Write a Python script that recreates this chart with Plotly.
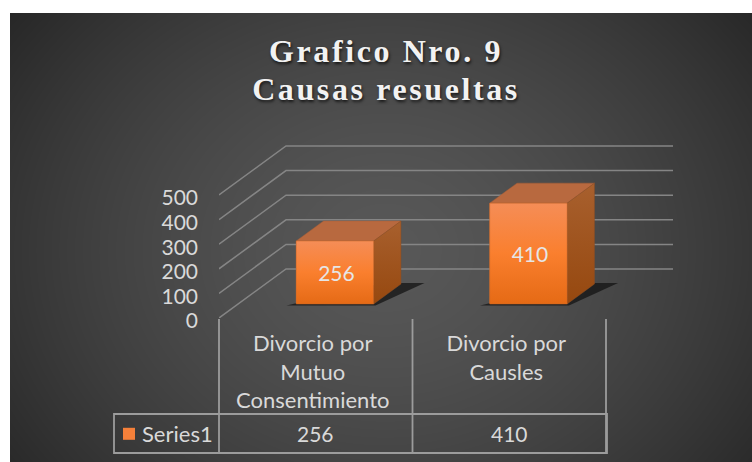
import base64, struct, zlib
import numpy as np
import plotly.graph_objects as go

# ---- data
categories = ["Divorcio por<br>Mutuo<br>Consentimiento", "Divorcio por<br>Causles"]
series_name = "Series1"
values = [256, 410]
y_ticks = [0, 100, 200, 300, 400, 500]

# ---- layout constants
W, H = 752, 462
L, R, B = 219, 606, 318              # category axis ends and baseline, pixels
Y500 = 195                           # pixel height of value 500 on the front plane
PLOT_R, PLOT_T = 680, 140            # plot box also holds the receding back wall
CARD = (10, 13, 752, 462)            # dark card
TABLE_TOP, TABLE_BOTTOM, TABLE_LEFT = 414, 453, 114
X_UNIT = (R - L) / 2.0
Y_UNIT = (B - Y500) / 500.0
DEPTH_X = 67 / X_UNIT                # oblique projection of the depth axis
DEPTH_Y = 49 / Y_UNIT
BAR_W = 0.40
D0, D1 = 0.286, 0.694                # bar front / back depth
FONT = "Lato, sans-serif"
TXT = "#d9d9d9"
GRID = "#858585"


def proj(x, v, d):
    return x + d * DEPTH_X, v + d * DEPTH_Y


def poly(points):
    xs, ys = zip(*points)
    return list(xs) + [xs[0]], list(ys) + [ys[0]]


def px(x):
    return (x - L) / (PLOT_R - L)


def py(y):
    return (B - y) / (B - PLOT_T)


def png_uri():
    x0, y0, x1, y1 = CARD
    w, h = x1 - x0, y1 - y0
    yy, xx = np.mgrid[y0:y1, x0:x1]
    t = np.clip(np.hypot((xx - 385) / 480.0, (yy - 250) / 400.0), 0, 1) ** 1.5
    c = (88 + (38 - 88) * t).astype(np.uint8)
    raw = b"".join(b"\x00" + bytes(np.repeat(row, 3)) for row in c)

    def chunk(tag, data):
        return struct.pack(">I", len(data)) + tag + data + struct.pack(">I", zlib.crc32(tag + data))

    png = (b"\x89PNG\r\n\x1a\n" + chunk(b"IHDR", struct.pack(">IIBBBBB", w, h, 8, 2, 0, 0, 0))
           + chunk(b"IDAT", zlib.compress(raw)) + chunk(b"IEND", b""))
    return "data:image/png;base64," + base64.b64encode(png).decode()


fig = go.Figure()

# walls' gridlines
for v in y_ticks:
    xs, ys = zip(proj(0, v, 0), proj(0, v, 1), proj(2, v, 1))
    fig.add_trace(go.Scatter(x=xs, y=ys, mode="lines", cliponaxis=False, showlegend=False, hoverinfo="skip",
                             line=dict(color=GRID, width=1.5)))

centers = [i + 0.5 for i in range(len(values))]

# flat front faces: the real bars
fig.add_trace(go.Bar(x=[c + D0 * DEPTH_X for c in centers], y=values, base=[D0 * DEPTH_Y] * len(values),
                     width=BAR_W, name=series_name, marker=dict(color="#F5803A", line=dict(width=0)),
                     showlegend=True, hoverinfo="skip"))

for c, v in zip(centers, values):
    a, b = c - BAR_W / 2, c + BAR_W / 2
    # floor shadow
    m = 0.04
    sx, sy = poly([proj(a - m, 0, D0 - 0.03), proj(b + 0.02, 0, D0 - 0.03),
                   proj(b + 0.115, 0, D1 + 0.02), proj(a + 0.3, 0, D1 + 0.02)])
    fig.add_trace(go.Scatter(x=sx, y=sy, mode="lines", fill="toself", cliponaxis=False, showlegend=False,
                             hoverinfo="skip", line=dict(width=0), fillcolor="rgba(15,15,15,0.7)"))
    # top face
    sx, sy = poly([proj(a, v, D0), proj(b, v, D0), proj(b, v, D1), proj(a, v, D1)])
    fig.add_trace(go.Scatter(x=sx, y=sy, mode="lines", fill="toself", cliponaxis=False, showlegend=False,
                             hoverinfo="skip", line=dict(width=0.5, color="#a95f36"), fillcolor="#B8693F"))
    # side face
    sx, sy = poly([proj(b, 0, D0), proj(b, 0, D1), proj(b, v, D1), proj(b, v, D0)])
    fig.add_trace(go.Scatter(x=sx, y=sy, mode="lines", fill="toself", cliponaxis=False, showlegend=False,
                             hoverinfo="skip", line=dict(width=0.5, color="#8f4f22"),
                             fillgradient=dict(type="vertical",
                                               colorscale=[[0, "#96480F"], [1, "#A8602E"]])))
    # gradient on the front face
    sx, sy = poly([proj(a, 0, D0), proj(b, 0, D0), proj(b, v, D0), proj(a, v, D0)])
    fig.add_trace(go.Scatter(x=sx, y=sy, mode="lines", fill="toself", cliponaxis=False, showlegend=False,
                             hoverinfo="skip", line=dict(width=0.5, color="#c9682b"),
                             fillgradient=dict(type="vertical",
                                               colorscale=[[0, "#E56A15"], [0.5, "#FA7F2E"], [1, "#F58D57"]])))

# value labels on the bars (nudged to the visual centre of the face)
LABEL_DX, LABEL_DY = 1.5 / X_UNIT, -3 / Y_UNIT
fig.add_trace(go.Scatter(x=[c + D0 * DEPTH_X + LABEL_DX for c in centers],
                         y=[D0 * DEPTH_Y + v / 2 + LABEL_DY for v in values],
                         mode="text", text=[str(v) for v in values], showlegend=False, hoverinfo="skip",
                         cliponaxis=False, textfont=dict(family=FONT, size=21, color="#e6e6e6")))

# data table
line = dict(color="#9c9c9c", width=1.8)
shapes = [dict(type="rect", xref="paper", yref="paper", x0=px(TABLE_LEFT), x1=px(R + 1),
               y0=py(TABLE_BOTTOM), y1=py(TABLE_TOP), line=line)]
for i in range(3):
    xp = px(L + i * X_UNIT)
    shapes.append(dict(type="line", xref="paper", yref="paper", x0=xp, x1=xp,
                       y0=py(TABLE_BOTTOM), y1=py(B + 1), line=line))

annotations = [dict(xref="x", yref="paper", x=c, y=py((TABLE_TOP + TABLE_BOTTOM) / 2), text=str(v),
                    yanchor="middle", xanchor="center", showarrow=False,
                    font=dict(family=FONT, size=21, color=TXT))
               for c, v in zip(centers, values)]

fig.update_layout(
    width=W, height=H, margin=dict(l=L, r=W - PLOT_R, t=PLOT_T, b=H - B, autoexpand=False),
    paper_bgcolor="white", plot_bgcolor="rgba(0,0,0,0)", barmode="overlay",
    hovermode=False,
    title=dict(text="Grafico Nro. 9<br>Causas resueltas", x=386 / W, xanchor="center", y=0.8655, yanchor="middle",
               font=dict(family="Liberation Serif", size=32, weight="bold", color="#f2f2f2",
                         shadow="1px 2px 3px rgba(0,0,0,0.7)")),
    xaxis=dict(range=[0, (PLOT_R - L) / X_UNIT], tickmode="array", tickvals=centers, ticktext=categories,
               showgrid=False, zeroline=False, showline=False, ticks="", ticklabelstandoff=10,
               ticklabelshift=-3, tickfont=dict(family=FONT, size=22, color=TXT)),
    yaxis=dict(range=[0, (B - PLOT_T) / Y_UNIT], tickmode="array", tickvals=y_ticks,
               ticktext=[str(t) for t in y_ticks], showgrid=False, zeroline=False, showline=False, ticks="",
               ticklabelstandoff=20, ticklabelshift=3, tickfont=dict(family=FONT, size=21, color=TXT)),
    legend=dict(x=px(109), y=py(434), xanchor="left", yanchor="middle", bgcolor="rgba(0,0,0,0)",
                font=dict(family=FONT, size=22, color=TXT), borderwidth=0),
    shapes=shapes, annotations=annotations,
    images=[dict(source=png_uri(), xref="paper", yref="paper", x=px(CARD[0]), y=py(CARD[1]),
                 sizex=px(CARD[2]) - px(CARD[0]), sizey=py(CARD[1]) - py(CARD[3]),
                 sizing="stretch", xanchor="left", yanchor="top", layer="below")],
)

post = """
document.body.style.margin = '0';
document.querySelectorAll('.gtitle').forEach(function (t) {
  t.style.letterSpacing = '2.6px';
  var lines = t.querySelectorAll('tspan.line');
  if (lines.length > 1) { lines[1].setAttribute('y', parseFloat(lines[1].getAttribute('y')) - 3.6); }
});
document.querySelectorAll('.legendtext').forEach(function (t) { t.setAttribute('x', 33); });
"""
fig.write_html("out.html", post_script=post, config=dict(displayModeBar=False))
